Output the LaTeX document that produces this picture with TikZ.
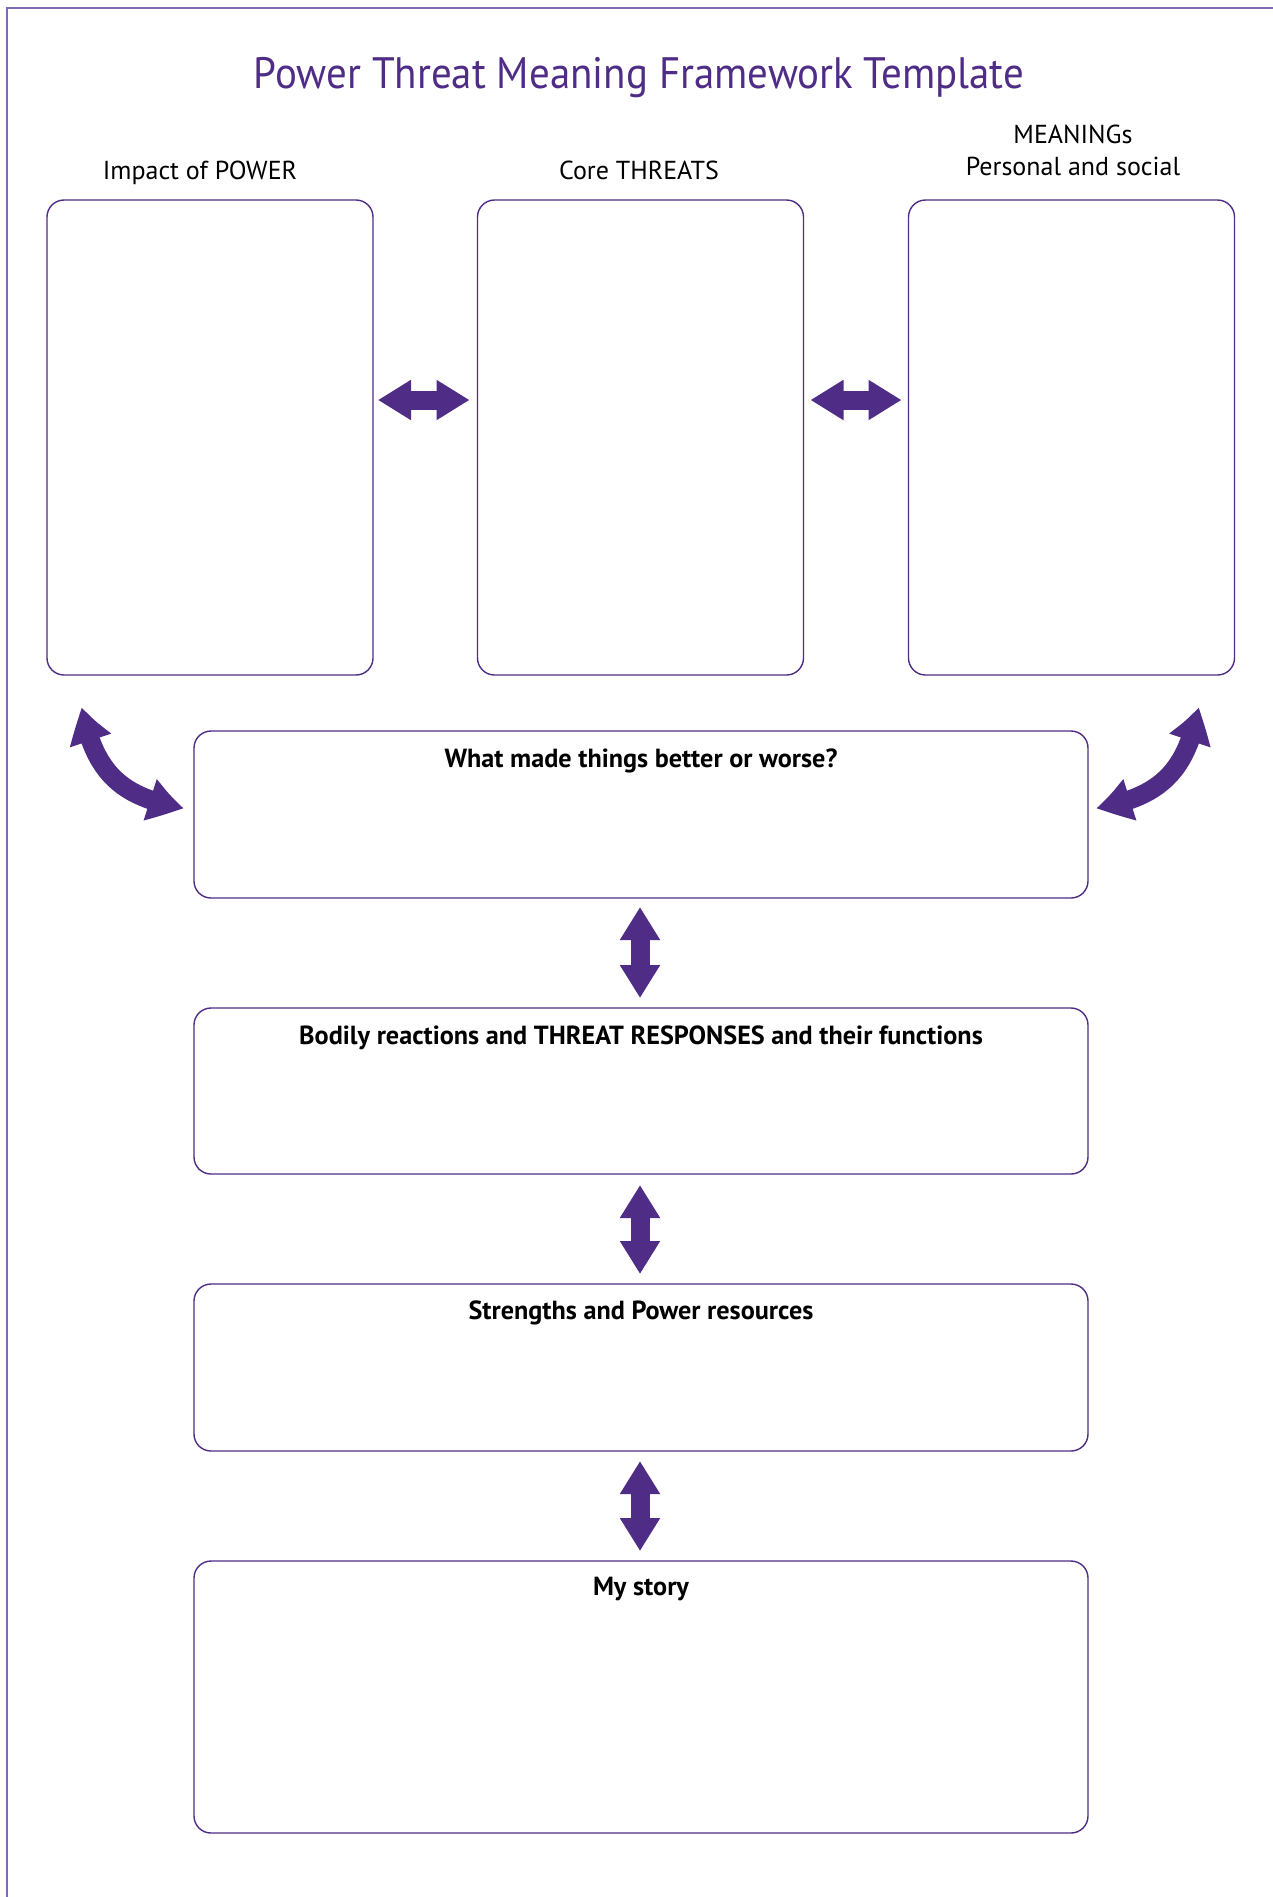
\documentclass[tikz,border=0pt]{standalone}
\usepackage{fontspec}
\setmainfont{PT Sans}
\newfontfamily\ptmtitlefont[FakeStretch=0.93]{PT Sans}
\usetikzlibrary{arrows.meta,bending,calc}
\definecolor{ptm}{RGB}{79,44,133}
\definecolor{framec}{RGB}{130,104,180}
\tikzset{
  box/.style={draw=ptm,line width=0.7pt,rounded corners=8.5pt,inner sep=0pt,outer sep=0pt},
  tallbox/.style={box,minimum width=163pt,minimum height=237.5pt},
  widebox/.style={box,minimum width=447pt},
  dbl/.style={ptm,line width=9.5pt,{Triangle[width=19pt,length=16.5pt]}-{Triangle[width=19pt,length=16.5pt]}},
  cdbl/.style={ptm,line width=9.5pt,{Triangle[bend,width=20pt,length=18pt]}-{Triangle[bend,width=20pt,length=18pt]}},
  head/.style={anchor=base,font=\fontsize{13}{15}\selectfont,inner sep=0pt},
  lab/.style={anchor=base,font=\fontsize{13.1}{15}\bfseries\selectfont,inner sep=0pt},
}
\begin{document}
\begin{tikzpicture}[x=0.5pt,y=-0.5pt]
\useasboundingbox (0,0) rectangle (1273,1897);
\draw[framec,line width=1.1pt] (7,1897) -- (7,8) -- (1273,8);
\node[anchor=base,text=ptm,font=\ptmtitlefont\fontsize{22}{26}\selectfont,inner sep=0pt] (title) at (639,88) {Power Threat Meaning Framework Template};
% top boxes
\node[tallbox] (p) at (210,437.5) {};
\node[tallbox] (t) at (640.5,437.5) {};
\node[tallbox] (m) at (1071.5,437.5) {};
\node[head] (ph) at (200,179) {Impact of POWER};
\node[head] (th) at (639,179) {Core THREATS};
\node[head] (mh1) at (1073,143) {MEANINGs};
\node[head] (mh2) at (1073,175) {Personal and social};
% wide boxes
\node[widebox,minimum height=83.5pt] (a) at (641,814.5) {};
\node[widebox,minimum height=83pt] (b) at (641,1091) {};
\node[widebox,minimum height=83.5pt] (c) at (641,1367.5) {};
\node[widebox,minimum height=136pt] (d) at (641,1697) {};
\node[lab] (al) at (641,767) {What made things better or worse?};
\node[lab] (bl) at (641,1044) {Bodily reactions and THREAT RESPONSES and their functions};
\node[lab] (cl) at (641,1319) {Strengths and Power resources};
\node[lab] (dl) at (641,1595) {My story};
% horizontal arrows
\draw[dbl] ($(p.east)+(5,-37.5)$) -- ($(t.west)+(-8,-37.5)$);
\draw[dbl] ($(t.east)+(7,-37.5)$) -- ($(m.west)+(-7,-37.5)$);
% vertical arrows
\draw[dbl] ($(a.south)+(-1,9)$) -- ($(b.north)+(-1,-10)$);
\draw[dbl] ($(b.south)+(-1,11)$) -- ($(c.north)+(-1,-10)$);
\draw[dbl] ($(c.south)+(-1,10)$) -- ($(d.north)+(-1,-10)$);
% curved arrows
\draw[cdbl] ($(p.south west)+(35,32)$) .. controls +(12,68) and +(-60,-10) .. ($(a.west)+(-10,-6.5)$);
\draw[cdbl] ($(m.south east)+(-36,32)$) .. controls +(-12,68) and +(60,-10) .. ($(a.east)+(8,-6.5)$);
\end{tikzpicture}
\end{document}
